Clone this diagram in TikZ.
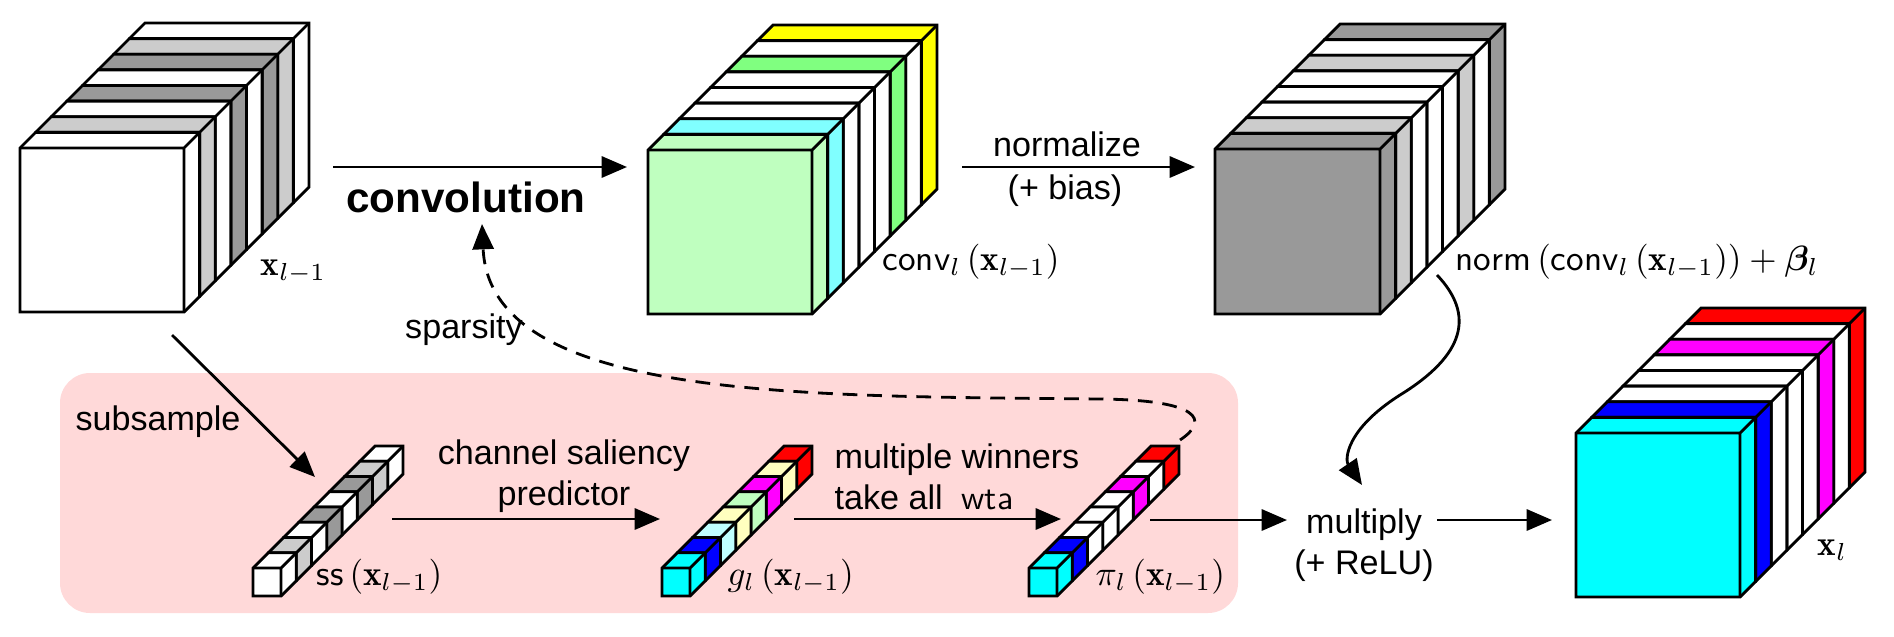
\documentclass[tikz,border=0pt]{standalone}
\usepackage{fontspec}
\usepackage{bm}
\usetikzlibrary{arrows.meta}
\newfontfamily\labfont{Liberation Sans}
\definecolor{lgray}{RGB}{204,204,204}
\definecolor{dgray}{RGB}{153,153,153}
\definecolor{lgreen}{RGB}{191,255,191}
\definecolor{lcyan}{RGB}{128,255,255}
\definecolor{mgreen}{RGB}{128,255,128}
\definecolor{yel}{RGB}{255,255,0}
\definecolor{cyn}{RGB}{0,255,255}
\definecolor{blu}{RGB}{0,0,255}
\definecolor{mag}{RGB}{255,0,255}
\definecolor{rd}{RGB}{255,0,0}
\definecolor{pcyan}{RGB}{191,255,255}
\definecolor{pyel}{RGB}{255,255,191}
\definecolor{pinkbg}{RGB}{255,217,217}
\tikzset{
  cubeline/.style={line width=0.8pt, line join=miter},
  arr/.style={line width=0.8pt, -{Triangle[length=7.2pt,width=6pt]}},
  lab/.style={inner sep=0pt, font=\labfont\fontsize{9.7}{11.6}\selectfont},
  mlab/.style={inner sep=0pt, font=\fontsize{10}{12}\selectfont},
}
% #1 x, #2 y (top-left of front face), #3 size, #4 slice depth, #5 colours back to front
\newcommand{\drawslab}[5]{%
  \foreach \col [count=\k] in {#5}{%
    \pgfmathsetmacro\ox{#1+(8-\k)*#4}%
    \pgfmathsetmacro\oy{#2-(8-\k)*#4}%
    \filldraw[cubeline,fill=\col] (\ox,\oy+#3) -- (\ox,\oy) -- ++(#4,-#4) -- ++(#3,0) -- ++(0,#3) -- (\ox+#3,\oy+#3) -- cycle;
    \draw[cubeline] (\ox,\oy) -- ++(#3,0) -- ++(0,#3) (\ox+#3,\oy) -- ++(#4,-#4);
  }%
}
\begin{document}
\begin{tikzpicture}[x=0.01cm,y=-0.01cm]
\useasboundingbox (0,0) rectangle (1894,636);
\fill[white] (0,0) rectangle (1894,636);
% pink panel
\fill[pinkbg, rounded corners=0.3cm] (60,373) rectangle (1238,613);
% cubes
\drawslab{20}{148}{164}{15.625}{white,lgray,dgray,white,dgray,white,lgray,white}
\drawslab{648}{150}{164}{15.625}{yel,white,mgreen,white,white,white,lcyan,lgreen}
\drawslab{1215}{149}{165}{15.625}{dgray,white,lgray,white,white,white,lgray,dgray}
\drawslab{1576}{433}{164}{15.625}{rd,white,mag,white,white,white,blu,cyn}
% bars
\drawslab{253}{568}{28}{15.25}{white,lgray,dgray,white,dgray,white,lgray,white}
\drawslab{662}{568}{28}{15.25}{rd,pyel,mag,lgreen,pyel,pcyan,blu,cyn}
\drawslab{1029}{568}{28}{15.25}{rd,white,mag,white,white,white,blu,cyn}
% connector end points
\coordinate (a1s) at (333,167); \coordinate (a1e) at (627,167);
\coordinate (a2s) at (962,167); \coordinate (a2e) at (1195,167);
\coordinate (a3s) at (172,335); \coordinate (a3e) at (315,477);
\coordinate (a4s) at (392,519); \coordinate (a4e) at (660,519);
\coordinate (a5s) at (794,519); \coordinate (a5e) at (1061,519);
\coordinate (a6s) at (1150,520); \coordinate (a6e) at (1287,520);
\coordinate (a7s) at (1437,520); \coordinate (a7e) at (1552,520);
\coordinate (ns) at (1437,275); \coordinate (ne) at (1362,485);
\coordinate (ds) at (1180,440); \coordinate (de) at (482,224);
% connectors
\draw[arr] (a1s) -- (a1e);
\draw[arr] (a2s) -- (a2e);
\draw[arr] (a3s) -- (a3e);
\draw[arr] (a4s) -- (a4e);
\draw[arr] (a5s) -- (a5e);
\draw[arr] (a6s) -- (a6e);
\draw[arr] (a7s) -- (a7e);
\draw[arr] (ns) .. controls (1475,315) and (1465,355) .. (1400,395) .. controls (1345,430) and (1345,460) .. (ne);
\draw[arr, dash pattern=on 4.2pt off 2.8pt] (ds) .. controls (1210,420) and (1200,400) .. (1100,399) .. controls (800,396) and (490,400) .. (de);
% text labels
\node[lab, font=\labfont\bfseries\fontsize{12}{14}\selectfont] (convt) at (466,197) {convolution};
\node[lab] (normt) at (1067,144) {normalize};
\node[lab] (biast) at (1065,191) {(+ bias)};
\node[lab] (subt) at (158,422) {subsample};
\node[lab] (spart) at (464,330) {sparsity};
\node[lab, align=center] (csp) at (564,476) {channel saliency\\predictor};
\node[lab, align=left, anchor=north west] (mwta) at (834,443) {multiple winners\\take all\hspace{0.55em}$\mathsf{wta}$};
\node[lab, align=center] (mult) at (1364,545) {multiply\\(+ ReLU)};
% math labels
\node[mlab, anchor=base west] (lx1) at (260,275) {$\mathbf{x}_{l-1}$};
\node[mlab, anchor=base west] (lconv) at (882,270) {$\mathsf{conv}_l\left(\mathbf{x}_{l-1}\right)$};
\node[mlab, anchor=base west] (lnorm) at (1455,270) {$\mathsf{norm}\left(\mathsf{conv}_l\left(\mathbf{x}_{l-1}\right)\right)+\bm{\beta}_l$};
\node[mlab, anchor=base west] (lxl) at (1817,555) {$\mathbf{x}_l$};
\node[mlab, anchor=base west] (lss) at (316,585) {$\mathsf{ss}\left(\mathbf{x}_{l-1}\right)$};
\node[mlab, anchor=base west] (lg) at (727,585) {$g_l\left(\mathbf{x}_{l-1}\right)$};
\node[mlab, anchor=base west] (lpi) at (1095,585) {$\pi_l\left(\mathbf{x}_{l-1}\right)$};
\end{tikzpicture}
\end{document}
